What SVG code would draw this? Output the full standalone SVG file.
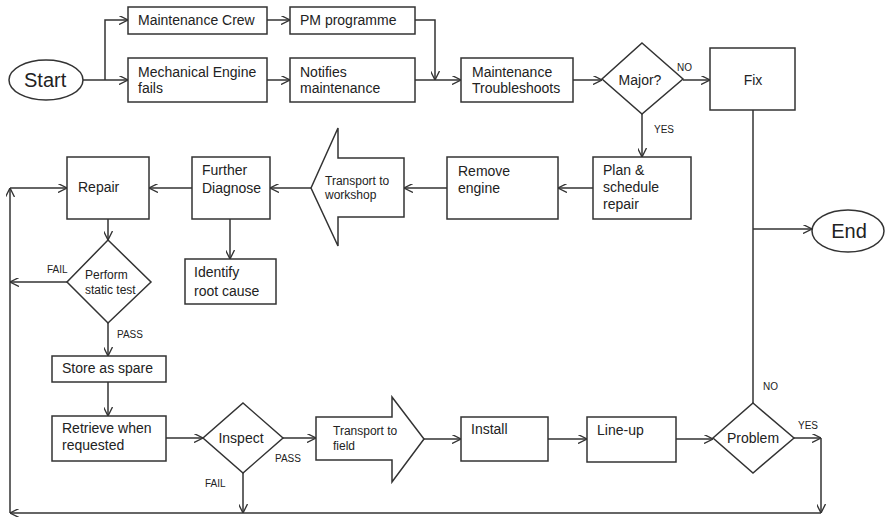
<svg xmlns="http://www.w3.org/2000/svg" width="885" height="517" viewBox="0 0 885 517">
<style>
.s{fill:#fff;stroke:#333;stroke-width:1.5}
.c{fill:none;stroke:#333;stroke-width:1.5}
text{font-family:"Liberation Sans",Arial,sans-serif;fill:#222}
.t{font-size:14px}
.m{font-size:12px}
.l{font-size:10px}
.b{font-size:20px}
</style>
<defs>
<marker id="ah" viewBox="0 0 10 10" refX="10" refY="5" markerWidth="9" markerHeight="9" markerUnits="userSpaceOnUse" orient="auto">
<path d="M0,0 L10,5 L0,10" fill="none" stroke="#333" stroke-width="1.5"/>
</marker>
</defs>
<rect width="885" height="517" fill="#fff"/>
<g id="connectors" class="c">
<path d="M83,80 H128" marker-end="url(#ah)"/>
<path d="M105,80 V20 H128" marker-end="url(#ah)"/>
<path d="M267,20 H290" marker-end="url(#ah)"/>
<path d="M267,80 H290" marker-end="url(#ah)"/>
<path d="M415,20 H435 V80" marker-end="url(#ah)"/>
<path d="M415,80 H461" marker-end="url(#ah)"/>
<path d="M573,80 H602" marker-end="url(#ah)"/>
<path d="M683,80 H710" marker-end="url(#ah)"/>
<path d="M642,114 V157" marker-end="url(#ah)"/>
<path d="M753,110 V403"/>
<path d="M753,229 H812" marker-end="url(#ah)"/>
<path d="M593,188 H558" marker-end="url(#ah)"/>
<path d="M447,188 H404" marker-end="url(#ah)"/>
<path d="M311,188 H270" marker-end="url(#ah)"/>
<path d="M192,188 H149" marker-end="url(#ah)"/>
<path d="M230,219 V259" marker-end="url(#ah)"/>
<path d="M108,219 V240" marker-end="url(#ah)"/>
<path d="M67,282 H10" marker-end="url(#ah)"/>
<path d="M108,323 V356" marker-end="url(#ah)"/>
<path d="M108,382 V416" marker-end="url(#ah)"/>
<path d="M166,438 H203" marker-end="url(#ah)"/>
<path d="M243,473 V513" marker-end="url(#ah)"/>
<path d="M283,438 H316" marker-end="url(#ah)"/>
<path d="M424,439 H461" marker-end="url(#ah)"/>
<path d="M548,439 H587" marker-end="url(#ah)"/>
<path d="M676,439 H713" marker-end="url(#ah)"/>
<path d="M794,438 H821" marker-end="url(#ah)"/>
<path d="M821,438 V513" marker-end="url(#ah)"/>
<path d="M821,513 H10" marker-end="url(#ah)"/>
<path d="M10,513 V188" marker-end="url(#ah)"/>
<path d="M10,188 H67" marker-end="url(#ah)"/>
</g>
<g id="start"><ellipse class="s" cx="46" cy="80" rx="37" ry="20"/><text class="b" x="24" y="87">Start</text></g>
<g id="crew"><rect class="s" x="128" y="7" width="139" height="27"/><text class="t" x="138" y="25">Maintenance Crew</text></g>
<g id="mech"><rect class="s" x="128" y="58" width="139" height="44"/><text class="t" x="138" y="77">Mechanical Engine</text><text class="t" x="138" y="93">fails</text></g>
<g id="pm"><rect class="s" x="290" y="7" width="125" height="27"/><text class="t" x="300" y="25">PM programme</text></g>
<g id="notifies"><rect class="s" x="290" y="58" width="125" height="44"/><text class="t" x="300" y="77">Notifies</text><text class="t" x="300" y="93">maintenance</text></g>
<g id="troubleshoots"><rect class="s" x="461" y="58" width="112" height="44"/><text class="t" x="472" y="77">Maintenance</text><text class="t" x="472" y="93">Troubleshoots</text></g>
<g id="major"><polygon class="s" points="642,43 683,79 642,114 602,79"/><text class="t" x="640" y="85" text-anchor="middle">Major?</text><text class="l" x="677" y="71">NO</text><text class="l" x="654" y="133">YES</text></g>
<g id="fix"><rect class="s" x="710" y="48" width="85" height="62"/><text class="t" x="753" y="85" text-anchor="middle">Fix</text></g>
<g id="end"><ellipse class="s" cx="848" cy="231" rx="36" ry="21"/><text class="b" x="849" y="238" text-anchor="middle">End</text></g>
<g id="plan"><rect class="s" x="593" y="157" width="98" height="62"/><text class="t" x="603" y="175">Plan &amp;</text><text class="t" x="603" y="192">schedule</text><text class="t" x="603" y="209">repair</text></g>
<g id="remove"><rect class="s" x="447" y="157" width="111" height="62"/><text class="t" x="458" y="176">Remove</text><text class="t" x="458" y="193">engine</text></g>
<g id="transport-workshop"><polygon class="s" points="311,188 338,128 338,158 404,158 404,217 338,217 338,246"/><text class="m" x="325" y="185">Transport to</text><text class="m" x="325" y="199">workshop</text></g>
<g id="diagnose"><rect class="s" x="192" y="157" width="78" height="62"/><text class="t" x="202" y="175">Further</text><text class="t" x="202" y="193">Diagnose</text></g>
<g id="repair"><rect class="s" x="67" y="157" width="82" height="62"/><text class="t" x="78" y="192">Repair</text></g>
<g id="identify"><rect class="s" x="185" y="259" width="91" height="45"/><text class="t" x="194" y="277">Identify</text><text class="t" x="194" y="296">root cause</text></g>
<g id="static-test"><polygon class="s" points="108,240 151,282 108,323 67,282"/><text class="m" x="85" y="279">Perform</text><text class="m" x="85" y="294">static test</text><text class="l" x="47" y="273">FAIL</text><text class="l" x="117" y="338">PASS</text></g>
<g id="store"><rect class="s" x="52" y="356" width="114" height="26"/><text class="t" x="62" y="373">Store as spare</text></g>
<g id="retrieve"><rect class="s" x="52" y="416" width="114" height="45"/><text class="t" x="62" y="433">Retrieve when</text><text class="t" x="62" y="450">requested</text></g>
<g id="inspect"><polygon class="s" points="243,403 283,438 243,473 203,438"/><text class="t" x="241" y="443" text-anchor="middle">Inspect</text><text class="l" x="205" y="487">FAIL</text><text class="l" x="275" y="462">PASS</text></g>
<g id="transport-field"><polygon class="s" points="316,417 392,417 392,397 424,439 392,482 392,460 316,460"/><text class="m" x="333" y="435">Transport to</text><text class="m" x="333" y="450">field</text></g>
<g id="install"><rect class="s" x="461" y="417" width="87" height="44"/><text class="t" x="471" y="434">Install</text></g>
<g id="lineup"><rect class="s" x="587" y="417" width="89" height="45"/><text class="t" x="597" y="435">Line-up</text></g>
<g id="problem"><polygon class="s" points="753,403 794,438 753,473 713,438"/><text class="t" x="753" y="443" text-anchor="middle">Problem</text><text class="l" x="763" y="390">NO</text><text class="l" x="798" y="429">YES</text></g>
</svg>
